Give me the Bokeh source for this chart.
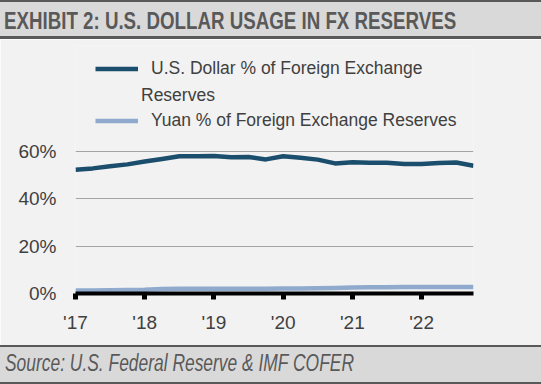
from bokeh.plotting import figure
from bokeh.models import (ColumnDataSource, Legend, LegendItem, FixedTicker,
                          PrintfTickFormatter, Div, Range1d)
from bokeh.layouts import column
from bokeh.embed import file_html
from bokeh.resources import INLINE

# ---- data (quarterly, 2017Q1 .. 2022Q4) ----
quarters = [2017.00, 2017.25, 2017.50, 2017.75,
            2018.00, 2018.25, 2018.50, 2018.75,
            2019.00, 2019.25, 2019.50, 2019.75,
            2020.00, 2020.25, 2020.50, 2020.75,
            2021.00, 2021.25, 2021.50, 2021.75,
            2022.00, 2022.25, 2022.50, 2022.75]
usd_share = [52.3, 52.9, 53.8, 54.6,
             55.8, 56.9, 58.0, 58.0,
             58.1, 57.6, 57.7, 56.7,
             58.0, 57.4, 56.6, 55.0,
             55.5, 55.3, 55.3, 54.8,
             54.8, 55.2, 55.4, 54.0]
yuan_share = [1.3, 1.3, 1.4, 1.5,
              1.6, 1.9, 2.0, 2.0,
              2.0, 2.0, 2.0, 2.0,
              2.1, 2.1, 2.2, 2.3,
              2.5, 2.6, 2.6, 2.7,
              2.8, 2.8, 2.8, 2.7]
x_ticks = [2017, 2018, 2019, 2020, 2021, 2022]
x_tick_labels = ["'17", "'18", "'19", "'20", "'21", "'22"]
y_ticks = [0, 20, 40, 60]

usd_label_lines = ["U.S. Dollar % of Foreign Exchange", "Reserves"]
yuan_label = "Yuan % of Foreign Exchange Reserves"
title_text = "EXHIBIT 2: U.S. DOLLAR USAGE IN FX RESERVES"
source_text = "Source: U.S. Federal Reserve &amp; IMF COFER"

FONT = "Liberation Sans"
BG = "#f2f2f2"
BAND = "#d9d9d9"
DARK = "#595959"
TXT = "#404040"
USD_C = "#1b4e6c"
YUAN_C = "#8faacd"

src = ColumnDataSource(dict(t=quarters, usd=usd_share, yuan=yuan_share))

p = figure(width=541, height=306, output_backend="svg", toolbar_location=None,
           x_range=Range1d(2017, 2022.75), y_range=Range1d(0, 104.86),
           min_border_left=75, min_border_right=68, min_border_top=6,
           min_border_bottom=52,
           background_fill_color=BG, border_fill_color=BG,
           outline_line_color=None)

r_usd = p.line("t", "usd", source=src, line_width=4.5, line_color=USD_C,
               line_join="round")
r_yuan = p.line("t", "yuan", source=src, line_width=4.5, line_color=YUAN_C,
                line_join="round")

# axes
p.xaxis.ticker = FixedTicker(ticks=x_ticks)
p.xaxis.major_label_overrides = {t: l for t, l in zip(x_ticks, x_tick_labels)}
p.xaxis.axis_line_color = "black"
p.xaxis.axis_line_width = 4
p.xaxis.major_tick_line_color = "black"
p.xaxis.major_tick_line_width = 5
p.xaxis.major_tick_out = 6
p.xaxis.major_tick_in = 0
p.xaxis.minor_tick_line_color = None
p.xaxis.major_label_standoff = 12
p.xaxis.major_label_text_font = FONT
p.xaxis.major_label_text_font_size = "19px"
p.xaxis.major_label_text_color = TXT

p.yaxis.ticker = FixedTicker(ticks=y_ticks)
p.yaxis.formatter = PrintfTickFormatter(format="%d%%")
p.yaxis.axis_line_color = None
p.yaxis.major_tick_line_color = None
p.yaxis.minor_tick_line_color = None
p.yaxis.major_tick_out = 0
p.yaxis.major_tick_in = 0
p.yaxis.major_label_standoff = 19
p.yaxis.major_label_text_font = FONT
p.yaxis.major_label_text_font_size = "19px"
p.yaxis.major_label_text_color = TXT

p.xgrid.grid_line_color = None
p.ygrid.grid_line_color = "#a3a3a3"
p.ygrid.grid_line_width = 1

legend_style = dict(margin=0, padding=0, label_text_font=FONT,
                    label_text_font_size="17.5px", label_text_color=TXT,
                    glyph_height=25, background_fill_alpha=0,
                    border_line_alpha=0)

# main legend: the two series (second line of the dollar label is below)
legend = Legend(items=[LegendItem(label=usd_label_lines[0], renderers=[r_usd]),
                       LegendItem(label=yuan_label, renderers=[r_yuan])],
                location=(20, 160), spacing=27, glyph_width=43,
                label_standoff=13, **legend_style)
p.add_layout(legend)

# wrapped continuation of the dollar label (no glyph drawn: zero width)
legend_wrap = Legend(items=[LegendItem(label=usd_label_lines[1],
                                       renderers=[r_usd])],
                     location=(66, 185), spacing=0, glyph_width=0,
                     label_standoff=0, **legend_style)
p.add_layout(legend_wrap)

title_div = Div(text=(
    f'<div style="width:541px;height:34px;background:{BAND};'
    f'border-top:2px solid {DARK};border-bottom:3px solid {DARK};color:{DARK};'
    f'font-family:\'{FONT}\';font-weight:bold;font-size:24px;'
    f'line-height:37px;white-space:nowrap;overflow:hidden;padding-left:4px;'
    f'box-sizing:content-box;">'
    f'<span style="display:inline-block;transform:scaleX(0.78);'
    f'transform-origin:0 50%;">{title_text}</span></div>'),
    width=541, height=39, margin=0)

source_div = Div(text=(
    f'<div style="width:541px;height:35px;background:{BAND};'
    f'border-top:2px solid {DARK};border-bottom:2px solid {DARK};color:{DARK};'
    f'font-family:\'{FONT}\';font-style:italic;font-size:23px;'
    f'line-height:33px;white-space:nowrap;overflow:hidden;padding-left:5px;'
    f'box-sizing:content-box;">'
    f'<span style="display:inline-block;transform:scaleX(0.757);'
    f'transform-origin:0 50%;">{source_text}</span></div>'),
    width=541, height=39, margin=0)

layout = column(title_div, p, source_div, spacing=0)

open("out.html", "w").write(file_html(layout, INLINE))
